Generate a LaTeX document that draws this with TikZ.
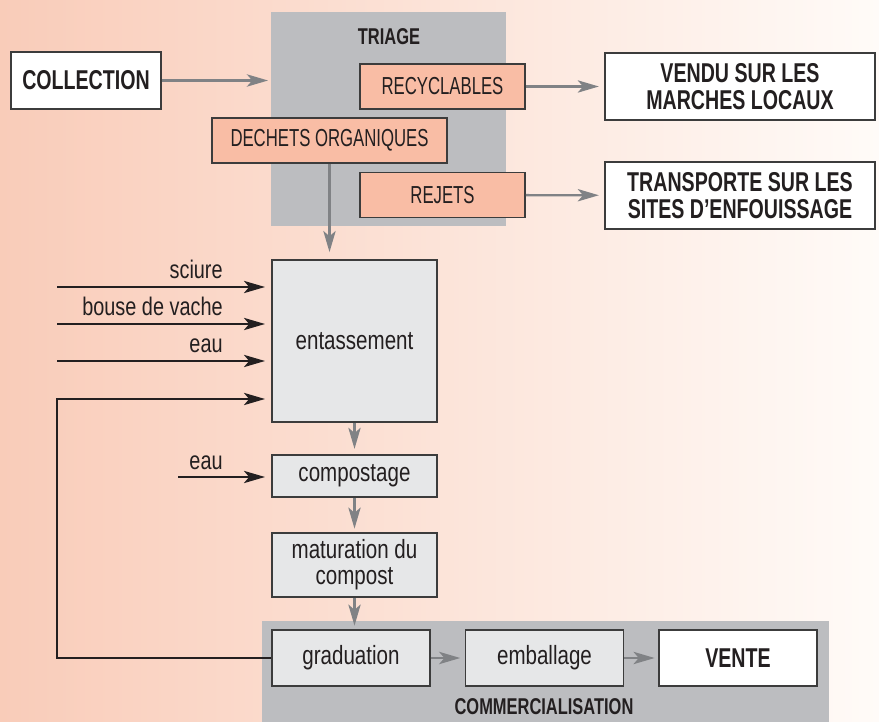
\documentclass[tikz,border=0pt]{standalone}
\usepackage{fontspec}
\setmainfont{Liberation Sans}[FakeStretch=0.78]
\newfontfamily\capsfont{Liberation Sans}[FakeStretch=0.68]
\newfontfamily\headfont{Liberation Sans}[FakeStretch=0.72]
\usetikzlibrary{arrows.meta}

\definecolor{bgleft}{RGB}{249,204,185}
\definecolor{bgright}{RGB}{255,251,248}
\definecolor{bandgrey}{RGB}{188,189,192}
\definecolor{boxgrey}{RGB}{230,231,232}
\definecolor{salmon}{RGB}{249,189,165}
\definecolor{ink}{RGB}{35,31,32}
\definecolor{arrowgrey}{RGB}{128,130,133}
\definecolor{boxline}{RGB}{60,60,60}

\begin{document}
\begin{tikzpicture}[
  box/.style={draw=boxline, line width=1pt, fill=boxgrey, text=ink, align=center,
    inner sep=2pt, font=\fontsize{15}{15}\selectfont},
  sortbox/.style={box, fill=salmon, minimum width=3.3cm, minimum height=0.9cm,
    font=\capsfont\fontsize{14}{15}\selectfont},
  outbox/.style={box, fill=white, font=\headfont\bfseries\fontsize{15.5}{15.5}\selectfont},
  stepbox/.style={box, minimum width=3.3cm},
  salebox/.style={box, minimum width=3.16cm, minimum height=1.12cm},
  bandlabel/.style={text=ink, font=\headfont\bfseries\fontsize{13}{14}\selectfont},
  inlabel/.style={text=ink, font=\fontsize{14.5}{15}\selectfont, anchor=base east, inner sep=0pt},
  flow/.style={draw=arrowgrey, line width=1.3pt, -{Stealth[length=12pt,width=7pt,inset=3pt]}},
  feed/.style={draw=ink, line width=0.75pt, -{Stealth[length=12pt,width=7pt,inset=3pt]}},
]

\useasboundingbox (0,0) rectangle (17.58,-14.44);
\shade [left color=bgleft, right color=bgright] (0,0) rectangle (17.58,-14.44);

% grey bands
\fill [bandgrey] (5.42,-0.24) rectangle (10.12,-4.52);
\fill [bandgrey] (5.24,-12.42) rectangle (16.58,-14.44);

\node [bandlabel] (triage) at (7.78,-0.74) {TRIAGE};
\node [bandlabel] (commerce) at (10.88,-14.14) {COMMERCIALISATION};

% triage
\node [outbox, minimum width=3cm, minimum height=1.14cm] (collection) at (1.72,-1.61) {COLLECTION};
\coordinate (triagein) at (5.36,-1.61);

\node [sortbox] (recyc) at (8.85,-1.73) {RECYCLABLES};
\node [sortbox, minimum width=4.7cm] (dechets) at (6.59,-2.81) {DECHETS ORGANIQUES};
\node [sortbox] (rejets) at (8.85,-3.9) {REJETS};

\node [outbox, minimum width=5.4cm, minimum height=1.34cm] (vendu) at (14.8,-1.73) {VENDU SUR LES\\MARCHES LOCAUX};
\node [outbox, minimum width=5.4cm, minimum height=1.34cm] (transport) at (14.8,-3.91) {TRANSPORTE SUR LES\\SITES D’ENFOUISSAGE};

% compostage
\node [stepbox, minimum height=3.24cm] (entass) at (7.09,-6.82) {entassement};
\node [stepbox, minimum height=0.84cm] (compost) at (7.09,-9.52) {compostage};
\node [stepbox, minimum height=1.28cm] (matur) at (7.09,-11.3) {maturation du\\compost};

% vente
\node [salebox] (gradu) at (7.02,-13.16) {graduation};
\node [salebox] (emball) at (10.89,-13.16) {emballage};
\node [salebox, fill=white, font=\headfont\bfseries\fontsize{15.5}{15.5}\selectfont] (vente) at (14.76,-13.16) {VENTE};

% inputs
\coordinate (sciure) at (1.14,-5.74);
\coordinate (bouse) at (1.14,-6.48);
\coordinate (eau) at (1.14,-7.22);
\coordinate (retour) at (1.14,-7.98);
\coordinate (eaubis) at (3.56,-9.54);

\node [inlabel] (tsciure) at (4.46,-5.58) {sciure};
\node [inlabel] (tbouse) at (4.46,-6.32) {bouse de vache};
\node [inlabel] (teau) at (4.46,-7.06) {eau};
\node [inlabel] (teaubis) at (4.46,-9.38) {eau};

\draw [flow] (collection) -- (triagein);
\draw [flow, shorten >=3pt] (recyc) -- (vendu);
\draw [flow, shorten >=3pt] (rejets) -- (transport);
\draw [flow, shorten >=4pt] (dechets.south) -- (dechets.south |- entass.north);
\draw [flow, shorten >=3pt] (entass) -- (compost);
\draw [flow, shorten >=2pt] (compost) -- (matur);
\draw [flow, shorten >=2pt] (matur.south) -- (matur.south |- gradu.north);
\draw [flow, shorten >=2.5pt] (gradu) -- (emball);
\draw [flow, shorten >=2pt] (emball) -- (vente);

\draw [feed, shorten >=3.5pt] (sciure) -- (sciure -| entass.west);
\draw [feed, shorten >=3.5pt] (bouse) -- (bouse -| entass.west);
\draw [feed, shorten >=3.5pt] (eau) -- (eau -| entass.west);
\draw [feed, shorten >=3.5pt] (gradu.west) -| (retour) -- (retour -| entass.west);
\draw [feed, shorten >=3.5pt] (eaubis) -- (eaubis -| compost.west);

\end{tikzpicture}
\end{document}
